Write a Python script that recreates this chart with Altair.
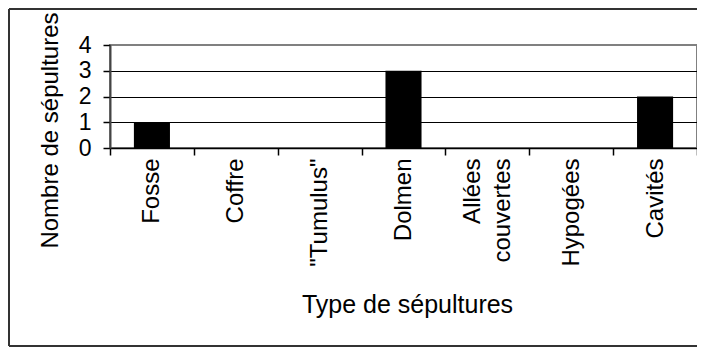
import altair as alt
import pandas as pd

categories = ["Fosse", "Coffre", "\"Tumulus\"", "Dolmen", "Allées couvertes", "Hypogées", "Cavités"]
values = [1, 0, 0, 3, 0, 0, 2]
y_ticks = [0, 1, 2, 3, 4]

df = pd.DataFrame({"type": categories, "n": values})
FONT = "Liberation Sans"

x = alt.X(
    "type:N", sort=categories, title="Type de sépultures",
    scale=alt.Scale(paddingInner=0, paddingOuter=0),
    axis=alt.Axis(
        labelAngle=-90, labelFontSize=24, labelFont=FONT, labelColor="black",
        labelExpr="datum.label == 'Allées couvertes' ? ['Allées', 'couvertes'] : datum.label",
        labelLineHeight=30,
        labelOffset={"condition": {"test": "datum.value == 'Allées couvertes'", "value": -15}, "value": 0},
        tickBand="extent", tickSize=7, tickColor="black",
        tickWidth=1.5, domainColor="black", domainWidth=1.5, labelPadding=3,
        titleFont=FONT, titleFontSize=25, titleFontWeight="normal", titleColor="black",
        titleX=297, titleY=164, titleAlign="center", titleBaseline="alphabetic",
        grid=False,
    ),
)

y = alt.Y(
    "n:Q", title="Nombre de sépultures", scale=alt.Scale(domain=[0, 4]),
    axis=alt.Axis(
        values=y_ticks, format="d", labelFontSize=23, labelFont=FONT, labelColor="black",
        tickSize=7, tickColor="black", tickWidth=1.5, labelPadding=12,
        domainColor="#444444", domainWidth=2,
        grid=True, gridWidth=1,
        gridColor={"condition": {"test": "datum.value == 4 || datum.value == 0", "value": "#808080"}, "value": "black"},
        titleFont=FONT, titleFontSize=24, titleFontWeight="normal", titleColor="black",
        titleX=-60, titleY=85, titleAngle=270, titleAlign="center", titleBaseline="middle",
    ),
)

bars = alt.Chart(df).mark_bar(
    color="black", strokeWidth=0, width=alt.RelativeBandSize(0.43)
).encode(x=x, y=y)

one = pd.DataFrame({"a": [0]})
frame_style = dict(color="#333333", strokeWidth=2)
left = alt.Chart(one).mark_rule(**frame_style).encode(
    x=alt.value(-101), y=alt.value(-36), y2=alt.value(301))
top = alt.Chart(one).mark_rule(**frame_style).encode(
    x=alt.value(-101), x2=alt.value(587), y=alt.value(-36))
bottom = alt.Chart(one).mark_rule(**frame_style).encode(
    x=alt.value(-101), x2=alt.value(587), y=alt.value(301))

chart = alt.layer(bars, left, top, bottom).properties(
    width=587, height=103,
    autosize=alt.AutoSizeParams(type="none"),
    padding={"left": 102, "top": 37, "right": 0, "bottom": 200},
    background="white",
).configure_view(stroke="#808080", strokeWidth=2)

chart.save("out.html", embed_options={"renderer": "svg", "actions": False})
